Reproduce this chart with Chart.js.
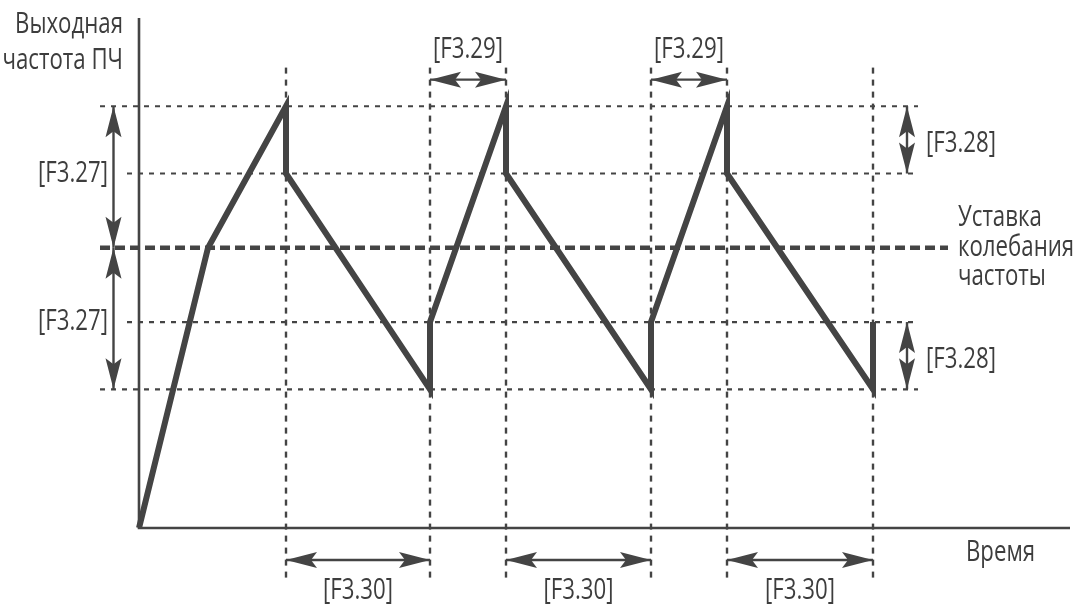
<!DOCTYPE html>
<html lang="ru">
<head>
    <meta charset="UTF-8">
    <title>Колебание частоты</title>
    <script src="https://cdn.jsdelivr.net/npm/chart.js"></script>
    <style>
        html, body { margin: 0; padding: 0; background: #fff; }
        #wrap { width: 1076px; height: 608px; }
    </style>
</head>
<body>
    <div id="wrap"><canvas id="swingChart" width="1076" height="608"></canvas></div>

    <script>
        // output frequency curve (time, value)
        const freqTime = [0, 6.9, 14.7, 14.7, 29.1, 29.1, 36.7, 36.7, 51.2, 51.2, 58.8, 58.8, 73.4, 73.4];
        const freqOut  = [0, 100, 150.5, 126.5, 49.5, 73.5, 150.5, 126.5, 49.5, 73.5, 150.5, 126.5, 49.5, 73.5];

        // horizontal reference levels
        const levelValues = [150.5, 126.5, 100, 73.5, 49.5];
        const levelFrom   = [-3.9, -1.2, -3.9, -1.2, -3.9];
        const levelTo     = [77.9, 77.9, 80.9, 77.9, 77.9];
        const centerLevel = 100;

        // vertical reference marks
        const markTimes = [14.7, 29.1, 36.7, 51.2, 58.8, 73.4];
        const markTop = 164.3;
        const markBottom = -17.9;

        // dimension arrows
        const riseSpans = [[29.1, 36.7], [51.2, 58.8]];              // [F3.29]
        const fallSpans = [[14.7, 29.1], [36.7, 51.2], [58.8, 73.4]]; // [F3.30]
        const ampSpans  = [[150.5, 100], [100, 49.5]];                // [F3.27]
        const jumpSpans = [[150.5, 126.5], [73.5, 49.5]];             // [F3.28]

        const ink = '#444444';
        const textInk = '#3d3d3d';
        const fontFamily = '"Open Sans", "Noto Sans", sans-serif';

        const datasets = [{
            label: 'Выходная частота',
            data: freqTime.map((t, i) => ({ x: t, y: freqOut[i] })),
            showLine: true,
            borderColor: ink,
            borderWidth: 6,
            borderJoinStyle: 'miter',
            pointRadius: 0,
            clip: false
        }];

        levelValues.forEach((v, i) => {
            const center = v === centerLevel;
            datasets.push({
                data: [{ x: levelFrom[i], y: v }, { x: levelTo[i], y: v }],
                showLine: true,
                borderColor: ink,
                borderWidth: center ? 4.5 : 2.2,
                borderDash: center ? [10, 5] : [5, 6],
                pointRadius: 0,
                clip: false
            });
        });

        markTimes.forEach(t => {
            datasets.push({
                data: [{ x: t, y: markTop }, { x: t, y: markBottom }],
                showLine: true,
                borderColor: ink,
                borderWidth: 2.4,
                borderDash: [6, 6],
                pointRadius: 0,
                clip: false
            });
        });

        function arrowHead(ctx, x, y, dx, dy) {
            // tip at (x, y), pointing in direction (dx, dy)
            const len = 31, half = 8, notch = 6;
            const nx = -dy, ny = dx;
            ctx.beginPath();
            ctx.moveTo(x, y);
            ctx.lineTo(x - dx * len + nx * half, y - dy * len + ny * half);
            ctx.lineTo(x - dx * (len - notch), y - dy * (len - notch));
            ctx.lineTo(x - dx * len - nx * half, y - dy * len - ny * half);
            ctx.closePath();
            ctx.fill();
        }

        function dimArrow(ctx, x1, y1, x2, y2) {
            const d = Math.hypot(x2 - x1, y2 - y1);
            const dx = (x2 - x1) / d, dy = (y2 - y1) / d;
            ctx.beginPath();
            ctx.moveTo(x1, y1);
            ctx.lineTo(x2, y2);
            ctx.stroke();
            arrowHead(ctx, x2, y2, dx, dy);
            arrowHead(ctx, x1, y1, -dx, -dy);
        }

        // condensed text: squeeze horizontally
        let squeeze = 1;
        function label(ctx, s, x, y, align) {
            ctx.save();
            ctx.translate(x, y);
            ctx.scale(squeeze, 1);
            ctx.textAlign = align;
            ctx.fillText(s, 0, 0);
            ctx.restore();
        }

        const annotations = {
            id: 'annotations',
            afterDraw(chart) {
                const ctx = chart.ctx;
                const xs = chart.scales.x, ys = chart.scales.y;
                const area = chart.chartArea;
                ctx.save();
                ctx.strokeStyle = ink;
                ctx.fillStyle = ink;

                // axes
                ctx.lineWidth = 2.6;
                ctx.beginPath();
                ctx.moveTo(area.left, area.top);
                ctx.lineTo(area.left, area.bottom);
                ctx.lineTo(area.right, area.bottom);
                ctx.stroke();

                // arrows
                ctx.lineWidth = 2.4;
                const topRow = ys.getPixelForValue(160);
                const bottomRow = ys.getPixelForValue(-11.4);
                riseSpans.forEach(s => dimArrow(ctx, xs.getPixelForValue(s[0]), topRow, xs.getPixelForValue(s[1]), topRow));
                fallSpans.forEach(s => dimArrow(ctx, xs.getPixelForValue(s[0]), bottomRow, xs.getPixelForValue(s[1]), bottomRow));
                const leftCol = xs.getPixelForValue(-2.55);
                const rightCol = xs.getPixelForValue(76.8);
                ampSpans.forEach(s => dimArrow(ctx, leftCol, ys.getPixelForValue(s[0]), leftCol, ys.getPixelForValue(s[1])));
                jumpSpans.forEach(s => dimArrow(ctx, rightCol, ys.getPixelForValue(s[0]), rightCol, ys.getPixelForValue(s[1])));

                // texts
                ctx.font = '29px ' + fontFamily;
                ctx.textBaseline = 'middle';
                ctx.fillStyle = textInk;
                squeeze = 70 / ctx.measureText('[F3.29]').width;

                label(ctx, 'Выходная', 123, 25, 'right');
                label(ctx, 'частота ПЧ', 123, 61, 'right');
                label(ctx, '[F3.27]', 108, ys.getPixelForValue(126.5), 'right');
                label(ctx, '[F3.27]', 108, ys.getPixelForValue(73.5), 'right');

                riseSpans.forEach(s => label(ctx, '[F3.29]', xs.getPixelForValue((s[0] + s[1]) / 2), 50, 'center'));
                fallSpans.forEach(s => label(ctx, '[F3.30]', xs.getPixelForValue((s[0] + s[1]) / 2), 591, 'center'));

                jumpSpans.forEach(s => label(ctx, '[F3.28]', 926, ys.getPixelForValue((s[0] + s[1]) / 2) + 4, 'left'));
                label(ctx, 'Уставка', 958, 218, 'left');
                label(ctx, 'колебания', 958, 248, 'left');
                label(ctx, 'частоты', 958, 277, 'left');
                label(ctx, 'Время', 966, 553, 'left');

                ctx.restore();
            }
        };

        new Chart(document.getElementById('swingChart').getContext('2d'), {
            type: 'scatter',
            data: { datasets: datasets },
            options: {
                responsive: false,
                animation: false,
                layout: { padding: { left: 139, right: 6, top: 18, bottom: 80 } },
                plugins: {
                    legend: { display: false },
                    tooltip: { enabled: false }
                },
                scales: {
                    x: { type: 'linear', min: 0, max: 93.1, display: false },
                    y: { type: 'linear', min: 0, max: 182, display: false }
                }
            },
            plugins: [annotations]
        });
    </script>
</body>
</html>
